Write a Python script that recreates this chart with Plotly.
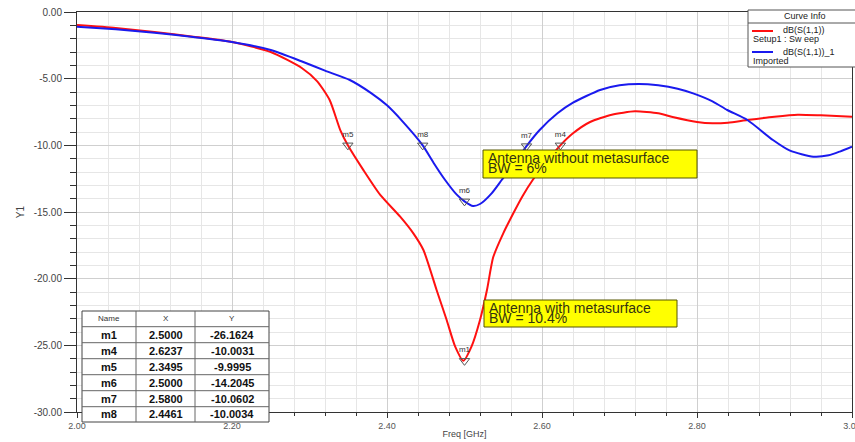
import plotly.graph_objects as go

# ---------------- data ----------------
freq_meta = [2.00, 2.05, 2.10, 2.15, 2.20, 2.25, 2.29, 2.31, 2.326, 2.34, 2.3495, 2.37, 2.391,
             2.417, 2.434, 2.447, 2.464, 2.477, 2.488, 2.4985, 2.509, 2.52, 2.529, 2.537, 2.55,
             2.563, 2.575, 2.588, 2.605, 2.6237, 2.64, 2.662, 2.69, 2.72, 2.75, 2.77, 2.80,
             2.82, 2.84, 2.865, 2.90, 2.93, 2.96, 3.00]
s11_meta = [-0.98, -1.2, -1.5, -1.85, -2.25, -3.0, -4.2, -5.2, -6.6, -8.9, -10.0, -11.9, -13.7,
            -15.35, -16.6, -17.85, -20.85, -23.1, -25.1, -26.16, -25.1, -23.1, -20.85, -18.4, -16.6,
            -15.1, -13.8, -12.6, -11.3, -10.0, -9.1, -8.25, -7.7, -7.45, -7.6, -7.9, -8.25,
            -8.35, -8.3, -8.1, -7.85, -7.7, -7.75, -7.85]

freq_plain = [2.00, 2.05, 2.10, 2.15, 2.20, 2.25, 2.292, 2.32, 2.352, 2.38, 2.40, 2.42, 2.4461,
              2.46, 2.475, 2.49, 2.50, 2.511, 2.52, 2.535, 2.548, 2.565, 2.58, 2.597, 2.62, 2.64,
              2.675, 2.70, 2.725, 2.75, 2.775, 2.795, 2.82, 2.839, 2.865, 2.898, 2.92, 2.95,
              2.97, 2.985, 3.00]
s11_plain = [-1.1, -1.3, -1.55, -1.88, -2.25, -2.85, -3.75, -4.4, -5.1, -6.1, -7.0, -8.2, -10.0,
             -11.3, -12.6, -13.7, -14.2, -14.55, -14.4, -13.6, -12.6, -11.3, -10.06, -8.85, -7.6, -6.8,
             -5.85, -5.5, -5.4, -5.5, -5.75, -6.1, -6.7, -7.35, -8.1, -9.6, -10.4, -10.85,
             -10.75, -10.45, -10.1]

marker_names = ["m1", "m4", "m5", "m6", "m7", "m8"]
marker_x = [2.5000, 2.6237, 2.3495, 2.5000, 2.5800, 2.4461]
marker_y = [-26.1624, -10.0031, -9.9995, -14.2045, -10.0602, -10.0034]

x_ticks = [2.0, 2.2, 2.4, 2.6, 2.8, 3.0]
y_ticks = [0, -5, -10, -15, -20, -25, -30]

# ---------------- geometry helpers (pixel -> paper) ----------------
W, H = 855, 442
L, R, T, B = 77, 3, 12, 30
PW, PH = W - L - R, H - T - B


def px(x):
    return (x - L) / PW


def py(y):
    return (H - B - y) / PH


FONT = "Liberation Sans, Arial, sans-serif"

fig = go.Figure()
fig.add_trace(go.Scatter(x=freq_meta, y=s11_meta, mode="lines",
                         line=dict(color="#ff1010", width=2, shape="spline", smoothing=0.6),
                         showlegend=False))
fig.add_trace(go.Scatter(x=freq_plain, y=s11_plain, mode="lines",
                         line=dict(color="#1a1aee", width=2, shape="spline", smoothing=0.6),
                         showlegend=False))
fig.add_trace(go.Scatter(x=marker_x, y=marker_y, mode="markers+text", text=marker_names,
                         textposition="top center",
                         textfont=dict(family=FONT, size=8, color="#333"),
                         marker=dict(symbol="triangle-down-open", size=9,
                                     color="#555", line=dict(width=1, color="#555")),
                         showlegend=False))

shapes = []
annotations = []

# yellow annotation boxes
boxes = [
    ((483, 150, 697, 178), "Antenna without metasurface", "BW = 6%"),
    ((484, 300, 677, 327), "Antenna with metasurface", "BW = 10.4%"),
]
for (x0, y0, x1, y1), l1, l2 in boxes:
    shapes.append(dict(type="rect", xref="paper", yref="paper", x0=px(x0), x1=px(x1),
                       y0=py(y1), y1=py(y0), fillcolor="#ffff00",
                       line=dict(color="#555500", width=1), layer="above"))
    annotations.append(dict(xref="paper", yref="paper", x=px(x0 + 3), y=py(y0 + 7.5),
                            xanchor="left", yanchor="middle", text=l1, showarrow=False,
                            font=dict(family=FONT, size=14, color="#333311")))
    annotations.append(dict(xref="paper", yref="paper", x=px(x0 + 3), y=py(y0 + 18),
                            xanchor="left", yanchor="middle", text=l2, showarrow=False,
                            font=dict(family=FONT, size=14, color="#333311")))

# marker table
tx0, ty0, tx1, ty1 = 82, 311, 269, 422
shapes.append(dict(type="rect", xref="paper", yref="paper", x0=px(tx0), x1=px(tx1),
                   y0=py(ty1), y1=py(ty0), fillcolor="white",
                   line=dict(color="#444", width=1), layer="above"))
row_edges = [311, 326.7, 342.7, 358.7, 374.7, 390.7, 406.7, 422]
col_edges = [82, 136, 195, 269]
for ry in row_edges[1:-1]:
    shapes.append(dict(type="line", xref="paper", yref="paper", x0=px(tx0), x1=px(tx1),
                       y0=py(ry), y1=py(ry), line=dict(color="#666", width=1), layer="above"))
for cx in col_edges[1:-1]:
    shapes.append(dict(type="line", xref="paper", yref="paper", x0=px(cx), x1=px(cx),
                       y0=py(ty0), y1=py(ty1), line=dict(color="#666", width=1), layer="above"))
col_centers = [(col_edges[i] + col_edges[i + 1]) / 2 for i in range(3)]
for ci, h in enumerate(["Name", "X", "Y"]):
    annotations.append(dict(xref="paper", yref="paper", x=px(col_centers[ci]),
                            y=py((row_edges[0] + row_edges[1]) / 2), text=h, showarrow=False,
                            xanchor="center", yanchor="middle",
                            font=dict(family=FONT, size=8, color="#333")))
for ri, (n, xv, yv) in enumerate(zip(marker_names, marker_x, marker_y)):
    yc = py((row_edges[ri + 1] + row_edges[ri + 2]) / 2)
    for ci, t in enumerate([n, f"{xv:.4f}", f"{yv:.4f}"]):
        annotations.append(dict(xref="paper", yref="paper", x=px(col_centers[ci]), y=yc,
                                text=f"<b>{t}</b>", showarrow=False,
                                xanchor="center", yanchor="middle",
                                font=dict(family=FONT, size=11, color="#111")))

# curve info box
shapes.append(dict(type="rect", xref="paper", yref="paper", x0=px(748), x1=px(870),
                   y0=py(67), y1=py(10), fillcolor="white",
                   line=dict(color="#555", width=1), layer="above"))
shapes.append(dict(type="line", xref="paper", yref="paper", x0=px(748), x1=px(870),
                   y0=py(23), y1=py(23), line=dict(color="#555", width=1), layer="above"))
annotations.append(dict(xref="paper", yref="paper", x=px(805), y=py(16.5), text="Curve Info",
                        showarrow=False, xanchor="center", yanchor="middle",
                        font=dict(family=FONT, size=9, color="#222")))
shapes.append(dict(type="line", xref="paper", yref="paper", x0=px(752), x1=px(773),
                   y0=py(31), y1=py(31), line=dict(color="#ff1010", width=2), layer="above"))
shapes.append(dict(type="line", xref="paper", yref="paper", x0=px(752), x1=px(773),
                   y0=py(52), y1=py(52), line=dict(color="#1a1aee", width=2), layer="above"))
for (xx, yy, t) in [(781, 30, "dB(S(1,1))"), (751, 39.5, "Setup1 : Sw eep"),
                    (781, 51.5, "dB(S(1,1))_1"), (751, 61, "Imported")]:
    annotations.append(dict(xref="paper", yref="paper", x=px(xx), y=py(yy), text=t,
                            showarrow=False, xanchor="left", yanchor="middle",
                            font=dict(family=FONT, size=9, color="#222")))

axis_common = dict(showline=True, linecolor="#333", linewidth=1, mirror=True,
                   ticks="outside", tickcolor="#333", zeroline=False,
                   ticklabeloverflow="allow", automargin=False)

fig.update_layout(
    width=W, height=H,
    margin=dict(l=L, r=R, t=T, b=B),
    paper_bgcolor="white", plot_bgcolor="white",
    font=dict(family=FONT, color="#444"),
    shapes=shapes, annotations=annotations,
    xaxis=dict(range=[2.0, 3.0], tickvals=x_ticks, ticktext=[f"{v:.2f}" for v in x_ticks],
               ticklen=5, tickfont=dict(size=9, color="#555"),
               showgrid=True, gridcolor="#cfcfcf", gridwidth=1,
               minor=dict(dtick=0.04, tick0=2.0, ticks="outside", ticklen=3, tickcolor="#333",
                          showgrid=True, gridcolor="#e6e6e6"),
               title=dict(text="Freq [GHz]", font=dict(size=9, color="#444"), standoff=0),
               **axis_common),
    yaxis=dict(range=[-30, 0], tickvals=y_ticks, ticktext=[f"{v:.2f}" for v in y_ticks],
               ticklen=12, tickfont=dict(size=10, color="#444"),
               showgrid=True, gridcolor="#cfcfcf", gridwidth=1,
               minor=dict(dtick=1, tick0=0, ticks="outside", ticklen=6, tickcolor="#333",
                          showgrid=True, gridcolor="#e6e6e6"),
               title=dict(text="Y1", font=dict(size=10, color="#444"), standoff=7),
               **axis_common),
)

fig.write_html("out.html", config={"displayModeBar": False},
               post_script="document.body.style.margin='0';document.body.style.padding='0';")
